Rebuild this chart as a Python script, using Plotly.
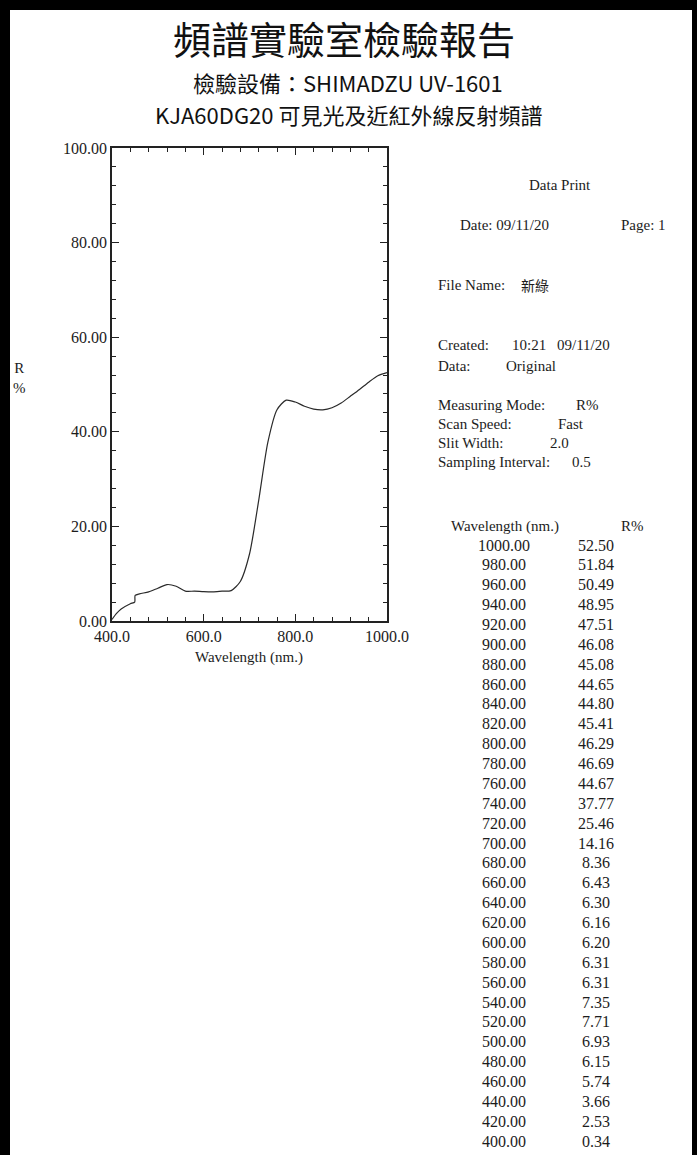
import plotly.graph_objects as go

W, H = 697, 1155

table_wavelength = [1000, 980, 960, 940, 920, 900, 880, 860, 840, 820, 800, 780, 760, 740,
                    720, 700, 680, 660, 640, 620, 600, 580, 560, 540, 520, 500, 480, 460,
                    440, 420, 400]
table_r = [52.50, 51.84, 50.49, 48.95, 47.51, 46.08, 45.08, 44.65, 44.80, 45.41, 46.29, 46.69,
           44.67, 37.77, 25.46, 14.16, 8.36, 6.43, 6.30, 6.16, 6.20, 6.31, 6.31, 7.35, 7.71,
           6.93, 6.15, 5.74, 3.66, 2.53, 0.34]

# extra points (initial rise and the detector step near 450 nm)
extra_wavelength = [410, 449.5, 450.5]
extra_r = [1.6, 4.0, 5.4]

x_ticks = [400, 600, 800, 1000]
y_ticks = [0, 20, 40, 60, 80, 100]

title_main = "頻譜實驗室檢驗報告"
title_sub1 = "檢驗設備：SHIMADZU UV-1601"
title_sub2 = "KJA60DG20 可見光及近紅外線反射頻譜"

pts = sorted(zip(table_wavelength + extra_wavelength, table_r + extra_r))
curve_x = [p[0] for p in pts]
curve_y = [p[1] for p in pts]

SERIF = "Liberation Serif"
CJK = "Noto Sans CJK TC"
INK = "#1c1c1c"

fig = go.Figure()
fig.add_trace(go.Scatter(
    x=curve_x, y=curve_y, mode="lines",
    line=dict(color="#2a2a2a", width=1.2, shape="spline", smoothing=0.7),
    showlegend=False, hoverinfo="skip"))

ann = []


def txt(x, y, s, size=15, anchor="left", family=SERIF, color=INK, yanchor="middle"):
    ann.append(dict(x=x / W, y=1 - y / H, xref="paper", yref="paper", text=s,
                    showarrow=False, xanchor=anchor, yanchor=yanchor,
                    font=dict(family=family, size=size, color=color)))


# titles
txt(344, 38, title_main, size=38, anchor="center", family=CJK, color="#111")
txt(348, 81.5, title_sub1, size=22, anchor="center", family=CJK, color="#111")
txt(348, 113.5, title_sub2, size=22, anchor="center", family=CJK, color="#111")

# axis labels
txt(19, 378, "R<br>%", size=15, anchor="center")
txt(249, 657, "Wavelength (nm.)", anchor="center")

# right info panel
txt(560, 185, "Data Print", anchor="center")
txt(458, 225, "Date: 09/11/20")
txt(668, 225, "Page: 1", anchor="right")
txt(436, 285, "File Name:")
txt(519, 285, "新綠", size=14, family=CJK)
txt(436, 345, "Created:")
txt(510, 345, "10:21")
txt(555, 345, "09/11/20")
txt(436, 366, "Data:")
txt(504, 366, "Original")
txt(436, 405, "Measuring Mode:")
txt(574, 405, "R%")
txt(436, 424, "Scan Speed:")
txt(556, 424, "Fast")
txt(436, 443, "Slit Width:")
txt(548, 443, "2.0")
txt(436, 462, "Sampling Interval:")
txt(570, 462, "0.5")

# data table
txt(505, 526, "Wavelength (nm.)", anchor="center")
txt(632, 526, "R%", anchor="center")
row0, step = 545, 19.87
for i, (wl, r) in enumerate(zip(table_wavelength, table_r)):
    y = row0 + i * step
    txt(504, y, f"{wl:.2f}", size=16, anchor="center")
    txt(596, y, f"{r:.2f}", size=16, anchor="center")

# page border (left, top, right) as filled bands
border = dict(type="rect", xref="paper", yref="paper", fillcolor="black",
              line=dict(width=0), layer="above")
shapes = [
    dict(border, x0=0, x1=10 / W, y0=0, y1=1),
    dict(border, x0=0, x1=1, y0=1 - 10 / H, y1=1),
    dict(border, x0=1 - 5 / W, x1=1, y0=0, y1=1),
]

axis_common = dict(showline=True, linecolor="#222", linewidth=1.5, mirror="allticks",
                   ticks="inside", tickcolor="#222", tickwidth=1.2, ticklen=7,
                   showgrid=False, zeroline=False, automargin=False,
                   tickfont=dict(family=SERIF, size=16, color=INK))

fig.update_layout(
    width=W, height=H,
    margin=dict(l=0, r=0, t=0, b=0, pad=0),
    paper_bgcolor="white", plot_bgcolor="white",
    xaxis=dict(domain=[112 / W, 387 / W], range=[400, 1000],
               tickvals=x_ticks, ticktext=[f"{v:.1f}" for v in x_ticks],
               minor=dict(dtick=40, tick0=400, ticks="inside", ticklen=4, tickcolor="#222",
                          tickwidth=1, showgrid=False),
               **axis_common),
    yaxis=dict(domain=[1 - 621 / H, 1 - 148 / H], range=[0, 100],
               tickvals=y_ticks, ticktext=[f"{v:.2f}" for v in y_ticks],
               minor=dict(dtick=4, tick0=0, ticks="inside", ticklen=4, tickcolor="#222",
                          tickwidth=1, showgrid=False),
               **axis_common),
    annotations=ann,
    shapes=shapes,
)

fig.write_html("out.html", config={"displayModeBar": False},
               post_script="document.body.style.margin='0';document.body.style.overflow='hidden';")
